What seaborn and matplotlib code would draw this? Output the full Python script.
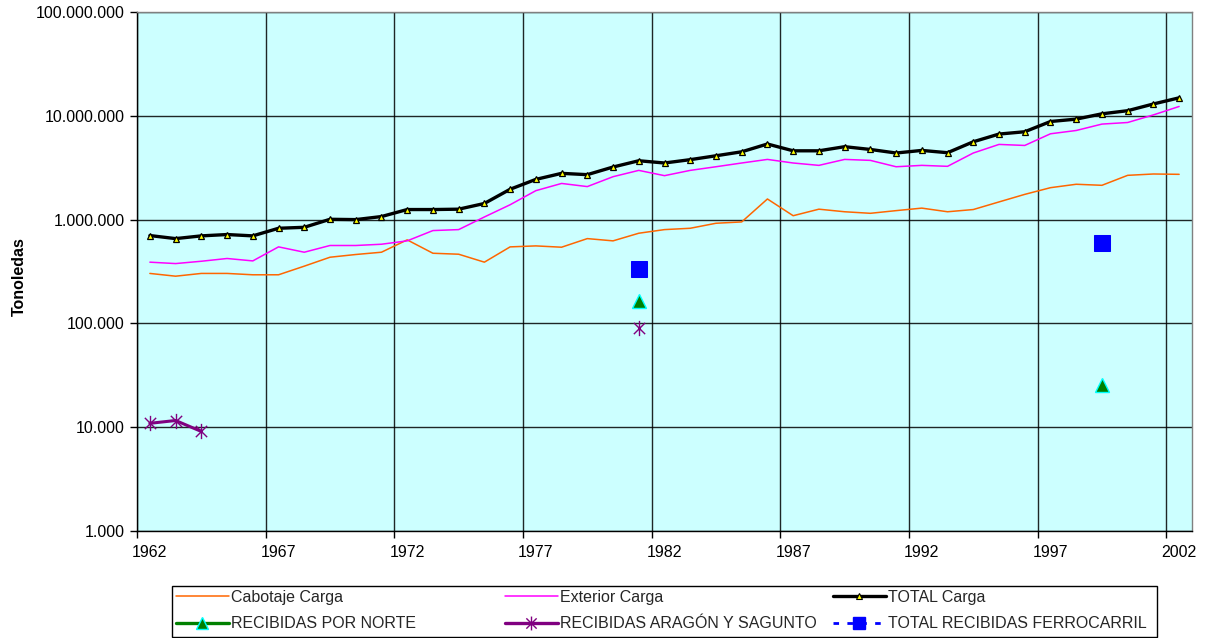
import numpy as np
import pandas as pd
import seaborn as sns
import matplotlib
matplotlib.use("Agg")
import matplotlib.pyplot as plt
from matplotlib.lines import Line2D
from matplotlib.path import Path
from matplotlib.patches import Rectangle
from matplotlib.ticker import FuncFormatter, NullLocator

# ---- data (tonnes per year) ----
years = list(range(1962, 2003))

cabotaje = [303e3, 285e3, 303e3, 303e3, 294e3, 294e3, 356e3, 434e3, 461e3, 485e3,
            638e3, 474e3, 464e3, 389e3, 546e3, 558e3, 542e3, 656e3, 624e3, 739e3,
            801e3, 825e3, 922e3, 950e3, 1580e3, 1090e3, 1260e3, 1190e3, 1150e3, 1220e3,
            1290e3, 1190e3, 1250e3, 1480e3, 1750e3, 2030e3, 2190e3, 2140e3, 2670e3, 2750e3, 2730e3]

exterior = [389e3, 377e3, 397e3, 422e3, 400e3, 546e3, 485e3, 563e3, 563e3, 579e3,
            624e3, 784e3, 801e3, 1060e3, 1390e3, 1900e3, 2230e3, 2080e3, 2590e3, 2980e3,
            2650e3, 2980e3, 3230e3, 3510e3, 3800e3, 3510e3, 3330e3, 3800e3, 3720e3, 3230e3,
            3330e3, 3260e3, 4380e3, 5300e3, 5180e3, 6710e3, 7220e3, 8320e3, 8620e3, 10200e3, 12300e3]

total = [702e3, 656e3, 697e3, 718e3, 697e3, 825e3, 843e3, 1007e3, 1000e3, 1070e3,
         1250e3, 1250e3, 1260e3, 1430e3, 1960e3, 2440e3, 2790e3, 2710e3, 3210e3, 3690e3,
         3510e3, 3780e3, 4120e3, 4500e3, 5350e3, 4600e3, 4600e3, 5040e3, 4740e3, 4380e3,
         4640e3, 4410e3, 5620e3, 6670e3, 7020e3, 8810e3, 9290e3, 10450e3, 11200e3, 13000e3, 14900e3]

# rail receipts, only reported for a few years
norte_years = [1981, 1999]
norte = [164e3, 25.3e3]

aragon_years = [1962, 1963, 1964, 1981]
aragon = [10.9e3, 11.6e3, 9.1e3, 91e3]

ferro_years = [1981, 1999]
ferro = [336e3, 597e3]

tick_years = [1962, 1967, 1972, 1977, 1982, 1987, 1992, 1997, 2002]
y_ticks = [1e3, 1e4, 1e5, 1e6, 1e7, 1e8]

labels = ["Cabotaje Carga", "Exterior Carga", "TOTAL Carga",
          "RECIBIDAS POR NORTE", "RECIBIDAS ARAGÓN Y SAGUNTO", "TOTAL RECIBIDAS FERROCARRIL"]

# ---- styling ----
sns.set_theme(style="white")
plt.rcParams["font.family"] = ["Liberation Sans", "DejaVu Sans"]

FS = 11.5
ORANGE = "#FF6600"
MAGENTA = "#FF00FF"
GREEN = "#008000"
PURPLE = "#800080"
BLUE = "#0000FF"
BG = "#CCFFFF"

# six-armed asterisk marker
star_path = Path([(-1, -1), (1, 1), (-1, 1), (1, -1), (0, -1.35), (0, 1.35)],
                 [Path.MOVETO, Path.LINETO, Path.MOVETO, Path.LINETO, Path.MOVETO, Path.LINETO])

fig = plt.figure(figsize=(12.12, 6.38), dpi=100)
ax = fig.add_axes([137 / 1212, 1 - 531 / 638, (1192 - 137) / 1212, (531 - 12) / 638])
ax.set_facecolor(BG)


def runs(xs, ys):
    """Split a series into runs of consecutive years."""
    out, cur = [], []
    for x, y in zip(xs, ys):
        if cur and x != cur[-1][0] + 1:
            out.append(cur)
            cur = []
        cur.append((x, y))
    if cur:
        out.append(cur)
    return out


def draw(xs, ys, **kw):
    for r in runs(xs, ys):
        df = pd.DataFrame(r, columns=["year", "value"])
        sns.lineplot(data=df, x="year", y="value", ax=ax, legend=False, **kw)


draw(years, cabotaje, color=ORANGE, linewidth=1.1, zorder=3)
draw(years, exterior, color=MAGENTA, linewidth=1.1, zorder=3)
draw(years, total, color="black", linewidth=2.4, marker="^", markersize=5,
     markerfacecolor="#FFFF00", markeredgecolor="black", markeredgewidth=0.9, zorder=4)
draw(norte_years, norte, color=GREEN, linewidth=2.4, marker="^", markersize=10,
     markerfacecolor=GREEN, markeredgecolor="#00FFFF", markeredgewidth=1.0, zorder=5)
draw(aragon_years, aragon, color=PURPLE, linewidth=2.2, marker=star_path, markersize=11,
     markerfacecolor="none", markeredgecolor=PURPLE, markeredgewidth=1.0, zorder=5)
draw(ferro_years, ferro, color=BLUE, linewidth=1.5, linestyle="--", marker="s", markersize=12,
     markerfacecolor=BLUE, markeredgecolor=BLUE, zorder=5)

# ---- axes ----
ax.set_yscale("log")
ax.set_ylim(1e3, 1e8)
ax.set_yticks(y_ticks)
ax.yaxis.set_minor_locator(NullLocator())
ax.yaxis.set_major_formatter(FuncFormatter(lambda v, p: f"{int(round(v)):,}".replace(",", ".")))

ax.set_xlim(years[0] - 0.5, years[-1] + 0.5)
ax.set_xticks(tick_years)
ax.set_xticklabels([str(y) for y in tick_years])
ax.set_xticks([y - 0.5 for y in tick_years], minor=True)

ax.tick_params(axis="x", which="major", length=0, pad=10, labelsize=FS, colors="black")
ax.tick_params(axis="x", which="minor", length=5, width=1, color="black", direction="out", bottom=True)
ax.tick_params(axis="y", which="major", length=5, width=1, color="black", direction="out",
               left=True, pad=4, labelsize=FS, labelcolor="black")

ax.grid(False)
ax.grid(axis="x", which="minor", color="black", linewidth=1.0, alpha=0.85)
ax.grid(axis="y", which="major", color="black", linewidth=1.0, alpha=0.85)
ax.set_axisbelow(True)

for side in ["left", "bottom"]:
    ax.spines[side].set_color("black")
    ax.spines[side].set_linewidth(1.0)
for side in ["top", "right"]:
    ax.spines[side].set_color("#808080")
    ax.spines[side].set_linewidth(1.0)

ax.set_xlabel("")
ax.set_ylabel("Tonoledas", fontsize=FS, fontweight="bold", color="black")
ax.yaxis.set_label_coords(-(137 - 27) / 1055, 0.49)

# ---- legend: three columns inside one frame ----
handles = [
    Line2D([], [], color=ORANGE, linewidth=1.1),
    Line2D([], [], color=MAGENTA, linewidth=1.1),
    Line2D([], [], color="black", linewidth=2.4, marker="^", markersize=4,
           markerfacecolor="#FFFF00", markeredgecolor="black", markeredgewidth=0.8),
    Line2D([], [], color=GREEN, linewidth=2.4, marker="^", markersize=9,
           markerfacecolor=GREEN, markeredgecolor="#00FFFF", markeredgewidth=1.0),
    Line2D([], [], color=PURPLE, linewidth=2.4, marker=star_path, markersize=10,
           markerfacecolor="none", markeredgecolor=PURPLE, markeredgewidth=1.0),
    Line2D([], [], color=BLUE, linewidth=2.0, linestyle=(0, (2, 3)), marker="s", markersize=9,
           markerfacecolor=BLUE, markeredgecolor=BLUE),
]

col_x = [176, 505, 833]
for c in range(3):
    fig.legend([handles[c], handles[c + 3]], [labels[c], labels[c + 3]],
               loc="upper left", bbox_to_anchor=(col_x[c] / 1212, 1 - 590 / 638),
               frameon=False, borderpad=0, borderaxespad=0, handlelength=3.3,
               handletextpad=0.15, labelspacing=0.72, fontsize=FS)

fig.add_artist(Rectangle((172 / 1212, 1 / 638), (1157 - 172) / 1212, (636 - 585) / 638,
                         transform=fig.transFigure, fill=False, edgecolor="black", linewidth=1.0))

fig.savefig("out.png", dpi=100, facecolor="white")
